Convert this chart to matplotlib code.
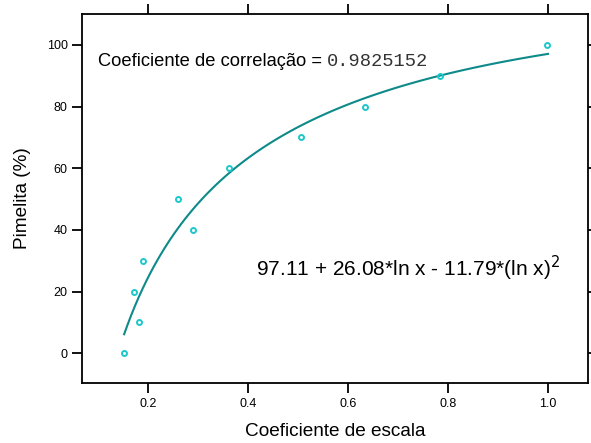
import numpy as np
import matplotlib
matplotlib.use("Agg")
import matplotlib.pyplot as plt

# observed data
escala = [0.152, 0.172, 0.182, 0.189, 0.259, 0.289, 0.361, 0.505, 0.633, 0.784, 0.997]
pimelita = [0, 20, 10, 30, 50, 40, 60, 70, 80, 90, 100]

# fitted model: a + b*ln x + c*(ln x)^2
coef = [97.11, 26.08, -11.79]
r_corr = "0.9825152"

xticks = [0.2, 0.4, 0.6, 0.8, 1.0]
yticks = [0, 20, 40, 60, 80, 100]

plt.rcParams["font.family"] = ["Liberation Sans", "DejaVu Sans"]

fig = plt.figure(figsize=(5.91, 4.43), dpi=100)
ax = fig.add_axes([0.139, 0.1354, 0.856, 0.8326])

xs = np.linspace(min(escala), 1.0, 120)
lx = np.log(xs)
ys = coef[0] + coef[1] * lx + coef[2] * lx ** 2
ax.plot(xs, ys, color="#0e8a8a", lw=1.5)

ax.plot(escala, pimelita, "o", ms=3.6, mfc="none", mec="#1cc8cc", mew=1.4)

ax.set_xlim(0.068, 1.08)
ax.set_ylim(-9.7, 110)
ax.set_xticks(xticks)
ax.set_xticklabels(["0.2", "0.4", "0.6", "0.8", "1.0"])
ax.set_yticks(yticks)
ax.tick_params(direction="out", length=7, width=1.3, labelsize=9,
               top=True, right=True, labeltop=False, labelright=False)
for s in ax.spines.values():
    s.set_linewidth(1.3)

ax.set_xlabel("Coeficiente de escala", fontsize=13.7, labelpad=10)
ax.set_ylabel("Pimelita (%)", fontsize=13.7, labelpad=11)

t = ax.text(0.1, 94.8, "Coeficiente de correlação = ", fontsize=13.2,
            va="center", ha="left")
fig.canvas.draw()
bb = t.get_window_extent()
xr = ax.transData.inverted().transform((bb.x1, 0))[0]
ax.text(xr, 94.8, r_corr, fontsize=13.5, family="Liberation Mono",
        va="center", ha="left", color="#333333")

eq = "%.2f + %.2f*ln x - %.2f*(ln x)$^2$" % (coef[0], coef[1], -coef[2])
ax.text(0.416, 27.6, eq, fontsize=15, va="center", ha="left")

fig.savefig("out.png", dpi=100)
